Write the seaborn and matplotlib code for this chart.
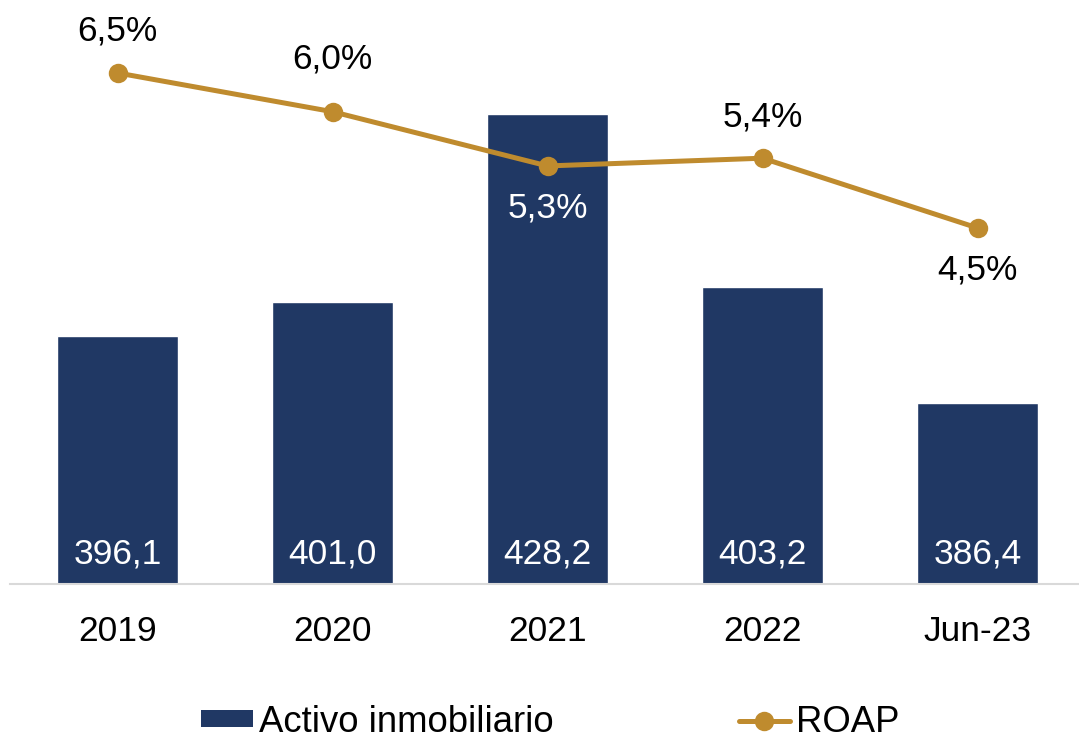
import matplotlib
matplotlib.use("Agg")
import matplotlib.pyplot as plt
import seaborn as sns
import pandas as pd
from matplotlib.patches import Patch
from matplotlib.lines import Line2D

# Data
periods = ["2019", "2020", "2021", "2022", "Jun-23"]
activo = [396.1, 401.0, 428.2, 403.2, 386.4]
roap = [6.5, 6.0, 5.3, 5.4, 4.5]
# label offset (points) of each ROAP label from its point: + above, - below
roap_label_offset = [30, 38, -30, 30, -30]

BAR_COLOR = "#203864"
LINE_COLOR = "#BF8B2E"
AXIS_COLOR = "#D9D9D9"
FONT_SIZE = 25.5
LEGEND_SIZE = 26.3

sns.set_theme(style="white")
plt.rcParams["font.family"] = ["Liberation Sans", "DejaVu Sans"]
plt.rcParams["text.color"] = "black"

df = pd.DataFrame({"periodo": periods, "activo": activo, "roap": roap})

fig = plt.figure(figsize=(10.79, 7.39), dpi=100)
ax = fig.add_axes([10 / 1079, 155 / 739, 1075 / 1079, 554 / 739])

sns.barplot(data=df, x="periodo", y="activo", color=BAR_COLOR, width=0.567,
            saturation=1, ax=ax)
ax.set_ylim(360.3, 440.3)
ax.set_xlim(-0.5, 4.5)

ax2 = ax.twinx()
sns.lineplot(data=df, x="periodo", y="roap", color=LINE_COLOR, linewidth=3.6,
             marker="o", markersize=14, markeredgewidth=0, ax=ax2, legend=False)
ax2.set_ylim(-0.094, 7.054)

# Value labels inside the bars
for i, v in enumerate(activo):
    ax.annotate(f"{v:.1f}".replace(".", ","), xy=(i, 360.3), xytext=(0, 15),
                textcoords="offset points", ha="center", va="baseline",
                color="white", fontsize=FONT_SIZE)

# ROAP labels (white where the label falls on a bar)
for i, (v, off) in enumerate(zip(roap, roap_label_offset)):
    color = "white" if (off < 0 and activo[i] == max(activo)) else "black"
    ax2.annotate(f"{v:.1f}%".replace(".", ","), xy=(i, v), xytext=(0, off),
                 textcoords="offset points", ha="center", va="center",
                 color=color, fontsize=FONT_SIZE)

# Axes styling
for a in (ax, ax2):
    for s in ("top", "left", "right"):
        a.spines[s].set_visible(False)
    a.set_xlabel("")
    a.set_ylabel("")
    a.set_yticks([])
ax2.spines["bottom"].set_visible(False)
ax.spines["bottom"].set_color(AXIS_COLOR)
ax.spines["bottom"].set_linewidth(1.5)
ax.tick_params(axis="x", length=0, pad=22.5, labelsize=FONT_SIZE, labelcolor="black")

handles = [Patch(facecolor=BAR_COLOR, edgecolor="none"),
           Line2D([], [], color=LINE_COLOR, linewidth=3.6, marker="o",
                  markersize=14, markeredgewidth=0)]
leg = fig.legend(handles, ["Activo inmobiliario", "ROAP"], loc="center",
                 bbox_to_anchor=(0.51, 0.023), ncol=2, frameon=False,
                 fontsize=LEGEND_SIZE, handlelength=1.42, handleheight=0.35,
                 handletextpad=0.16, columnspacing=5.07)
for t in leg.get_texts():
    t.set_color("black")

fig.savefig("out.png", dpi=100)
